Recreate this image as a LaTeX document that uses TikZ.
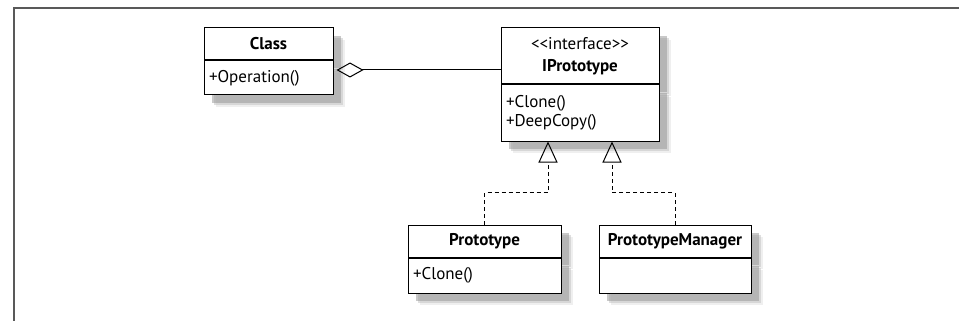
\documentclass[tikz,border=0pt]{standalone}
\usepackage{fontspec}
\setmainfont{PT Sans}[Ligatures=TeXOff]
\usetikzlibrary{positioning, shadows, arrows.meta}

\tikzset{
  box/.style={draw, fill=white, line width=1pt,
    drop shadow={shadow xshift=12pt, shadow yshift=-12pt, fill=black!12},
    drop shadow={shadow xshift=10pt, shadow yshift=-10pt, fill=black!25},
    drop shadow={shadow xshift=8pt, shadow yshift=-8pt, fill=black!42}},
  umlhead/.style={box, minimum width=#1, minimum height=32pt, inner sep=0pt,
    align=center, font=\fontsize{17}{22}\selectfont\bfseries},
  umlbody/.style={box, text width=#1, minimum height=34pt, inner xsep=5pt,
    inner ysep=0pt, align=left, font=\fontsize{17}{19}\selectfont},
  aggr/.style={line width=1pt, -{Diamond[open, length=27pt, width=15pt]}, shorten >=3pt},
  realize/.style={line width=1pt, dash pattern=on 4pt off 3pt,
    -{Triangle[open, length=21pt, width=19pt]}},
  frame/.style={line width=1.5pt, black!65}
}

\begin{document}
\begin{tikzpicture}[x=1pt, y=-1pt]
\useasboundingbox (0,0) rectangle (959,321);
\draw[frame] (959,8) -| (14,321);

% classes
\node[umlhead=129pt] (cls) at (268.5,44) {Class};
\node[umlbody=119pt, below=0pt of cls] (clsops) {+Operation()};

\node[umlhead=158pt, minimum height=56pt] (ipro) at (580,56)
  {\mdseries<<interface>>\\IPrototype};
\node[umlbody=148pt, minimum height=56pt, below=0pt of ipro] (iproops)
  {+Clone()\\+DeepCopy()};

\node[umlhead=153pt] (proto) at (484.5,241) {Prototype};
\node[umlbody=143pt, minimum height=35pt, below=0pt of proto] (protoops) {+Clone()};

\node[umlhead=152pt] (mgr) at (675,241) {PrototypeManager};
\node[umlbody=142pt, minimum height=35pt, below=0pt of mgr] (mgrops) {};

% connectors
\coordinate (join) at ([yshift=-14pt]ipro.west);
\draw[aggr] (join) -- (join -| cls.east);

\draw[realize] (proto.north) -- ++(0,-32) -| ([xshift=-32pt]iproops.south);
\draw[realize] (mgr.north) -- ++(0,-32) -| ([xshift=32pt]iproops.south);
\end{tikzpicture}
\end{document}
